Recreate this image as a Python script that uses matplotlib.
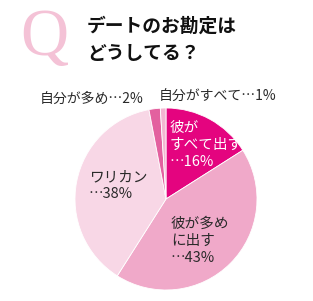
import matplotlib
matplotlib.use("Agg")
import matplotlib.pyplot as plt

plt.rcParams['font.family'] = ['Noto Sans CJK JP', 'DejaVu Sans']

labels = ["彼が\nすべて出す\n⋯16%", "彼が多め\nに出す\n⋯43%", "ワリカン\n⋯38%", "自分が多め⋯2%", "自分がすべて⋯1%"]
values = [16, 43, 38, 2, 1]
colors = ["#e4047f", "#f0a9c9", "#f8d7e6", "#e3619f", "#f3b6d1"]
title = "デートのお勘定は\nどうしてる？"

W, H = 313, 301
fig = plt.figure(figsize=(W / 100, H / 100), dpi=100)

def fx(x):
    return x / W

def fy(y):
    return 1 - y / H

cx, cy, r = 166, 199, 91
ax = fig.add_axes([fx(cx - r), fy(cy + r), 2 * r / W, 2 * r / H])
ax.pie(values, colors=colors, startangle=90, counterclock=False, radius=1,
       wedgeprops=dict(linewidth=0.6, edgecolor="white"))
ax.set_xlim(-1, 1)
ax.set_ylim(-1, 1)
ax.set_aspect("equal")
ax.axis("off")

fig.text(fx(20), fy(38), "Q", fontsize=48, color="#f4c2d6", family="Liberation Serif",
         ha="left", va="center")
fig.text(fx(87), fy(40), title, fontsize=13.5, fontweight="bold", color="#111111",
         ha="left", va="center", linespacing=1.55)

fig.text(fx(40), fy(99), labels[3], fontsize=10, color="#2a2a2a", ha="left", va="center")
fig.text(fx(159), fy(97), labels[4], fontsize=10, color="#2a2a2a", ha="left", va="center")
fig.text(fx(170), fy(145), labels[0], fontsize=10.5, color="white", ha="left", va="center",
         linespacing=1.3)
fig.text(fx(89), fy(186), labels[2], fontsize=10.5, color="#2a2a2a", ha="left", va="center",
         linespacing=1.2)
fig.text(fx(171), fy(241), labels[1], fontsize=10.5, color="#2a2a2a", ha="left", va="center",
         linespacing=1.3)

fig.savefig("out.png", dpi=100, facecolor="white")
